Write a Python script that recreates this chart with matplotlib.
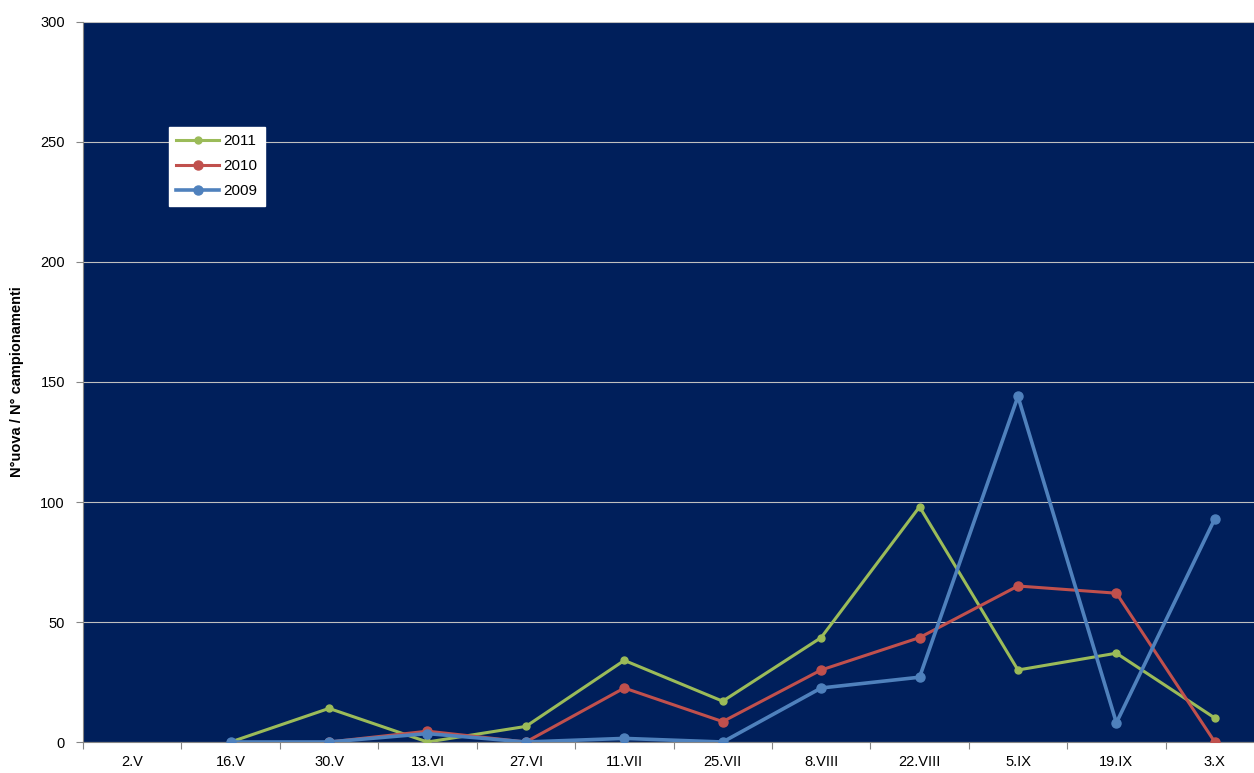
import matplotlib
matplotlib.use("Agg")
import matplotlib.pyplot as plt
import numpy as np

# Dati
date = ["2.V", "16.V", "30.V", "13.VI", "27.VI", "11.VII", "25.VII",
        "8.VIII", "22.VIII", "5.IX", "19.IX", "3.X"]
v2011 = [None, 0, 14, 0, 6.5, 34, 17, 43.5, 98, 30, 37, 10]
v2010 = [None, None, 0, 4.5, 0, 22.5, 8.5, 30, 43.5, 65, 62, 0]
v2009 = [None, 0, 0, 3.5, 0, 1.5, 0, 22.5, 27, 144, 8, 93]
y_ticks = [0, 50, 100, 150, 200, 250, 300]

plt.rcParams['font.family'] = ['Liberation Sans', 'DejaVu Sans']

def serie(v):
    return np.array([np.nan if a is None else a for a in v], dtype=float)

x = np.arange(len(date))

fig = plt.figure(figsize=(12.54, 7.73), dpi=100)
ax = fig.add_axes([83/1254, 31/773, 1181/1254, 720/773])
ax.set_facecolor("#001F5B")

ax.plot(x, serie(v2011), color="#9BBB59", lw=2.2, marker="o", ms=5, label="2011", zorder=3)
ax.plot(x, serie(v2010), color="#C0504D", lw=2.2, marker="o", ms=6.5, label="2010", zorder=4)
ax.plot(x, serie(v2009), color="#4F81BD", lw=2.6, marker="o", ms=6.5, label="2009", zorder=5)

ax.set_xlim(-0.5, len(date) - 0.5)
ax.set_ylim(0, 300)
ax.set_yticks(y_ticks)
ax.yaxis.grid(True, color="#BFBFBF", lw=0.8)
ax.set_axisbelow(True)

# tick tra le categorie, etichette al centro
ax.set_xticks(np.arange(len(date) + 1) - 0.5)
ax.set_xticklabels([])
ax.set_xticks(x, minor=True)
ax.set_xticklabels(date, minor=True, fontsize=10.5)
ax.tick_params(axis="x", which="minor", length=0, pad=9)
ax.tick_params(axis="x", which="major", length=5, color="#868686")
ax.tick_params(axis="y", length=5, color="#868686", labelsize=10.5, pad=8)

for s in ["top", "right"]:
    ax.spines[s].set_visible(False)
ax.spines["left"].set_color("#868686")
ax.spines["bottom"].set_color("#868686")

ax.set_ylabel("N°uova / N° campionamenti", fontsize=10.5, fontweight="bold")
ax.yaxis.set_label_coords(-0.05, 0.5)

leg = ax.legend(loc="upper left", bbox_to_anchor=(0.066, 0.865), fontsize=11,
                frameon=True, fancybox=False, edgecolor="white", framealpha=1,
                handlelength=2.8, borderpad=0.5, labelspacing=0.7, handletextpad=0.3)

plt.savefig("out.png", dpi=100)
